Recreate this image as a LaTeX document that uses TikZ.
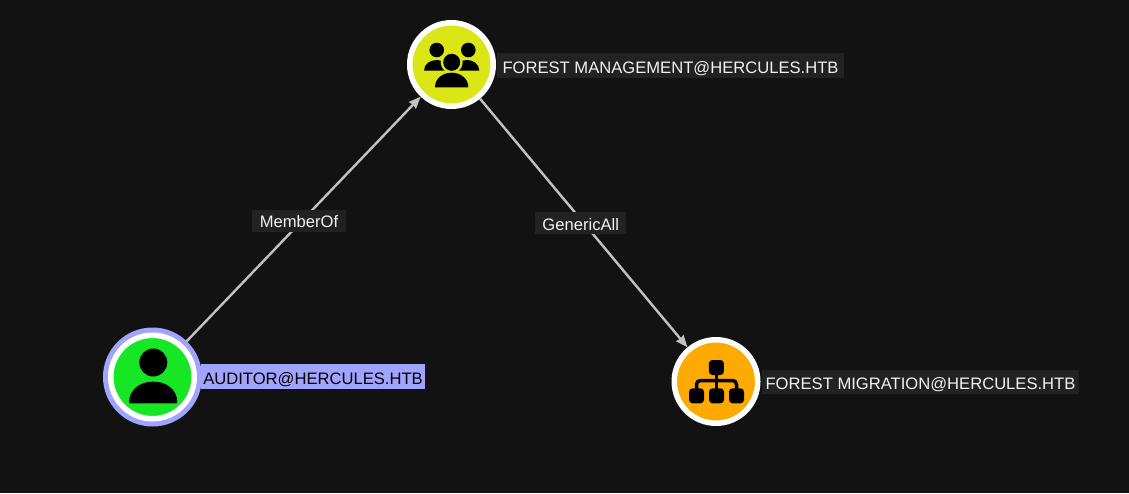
\documentclass[tikz,border=0pt]{standalone}
\usepackage{fontspec}
\setmainfont{Liberation Sans}
\usepackage{xcolor}
\usetikzlibrary{arrows.meta}
\definecolor{bgdark}{HTML}{121212}
\definecolor{labdark}{HTML}{222222}
\definecolor{selblue}{HTML}{A0A4FF}
\definecolor{usergreen}{HTML}{17E625}
\definecolor{groupyellow}{HTML}{DBE617}
\definecolor{ouorange}{HTML}{FFAA00}
\definecolor{edgegray}{HTML}{C2C2C2}
\begin{document}
\begin{tikzpicture}[
  x=1pt, y=-1pt,
  obj/.style={circle, draw=white, line width=5.5pt, minimum size=83.5pt, inner sep=0pt},
  nm/.style={font=\fontsize{16.6}{18}\selectfont, text=white!95!black, fill=labdark,
             inner sep=0pt, text height=20.2pt, text depth=4.3pt},
  elab/.style={font=\fontsize{16.6}{18}\selectfont, text=white!95!black, fill=labdark,
               inner sep=0pt, text height=18pt, text depth=3.7pt},
  arr/.style={-{Stealth[length=12pt,width=9.5pt,inset=1pt]}, line width=2.4pt, edgegray},
]
\fill[bgdark] (0,0) rectangle (1129,493);
\useasboundingbox (0,0) rectangle (1129,493);

% name tags sit under the circles
\node[nm, minimum width=224pt, fill=selblue, text=black] (tagaud) at (313,376.5) {AUDITOR@HERCULES.HTB};
\node[nm, minimum width=347pt] (tagmgmt) at (670.5,65.5) {FOREST MANAGEMENT@HERCULES.HTB};
\node[nm, minimum width=317pt] (tagmig) at (920.5,382) {FOREST MIGRATION@HERCULES.HTB};

% the three objects
\fill[selblue] (152.5,377) circle (49.5pt);
\node[obj, fill=usergreen] (aud) at (152.5,377) {};
\node[obj, fill=groupyellow] (mgmt) at (451.5,64.5) {};
\node[obj, fill=ouorange] (mig) at (716,381.5) {};

% user icon
\fill[black] (153.3,362.5) circle (14pt);
\fill[black, rounded corners=1pt] (129,403.3) .. controls (129,389) and (141,381.7) .. (153.2,381.7)
  .. controls (165.5,381.7) and (177.3,389) .. (177.3,403.3) -- cycle;

% group icon
\fill[black] (436.7,50) circle (7.3pt) (468.3,50) circle (7.3pt);
\fill[black] (424,70.7) .. controls (424,64) and (430,60) .. (436.7,60) .. controls (443,60) and (449,64) .. (449,70.7) -- cycle;
\fill[black] (454,70.7) .. controls (454,64) and (460,60) .. (467,60) .. controls (473,60) and (479.3,64) .. (479.3,70.7) -- cycle;
\fill[groupyellow] (451.7,62.3) circle (11pt);
\fill[black] (451.7,62.3) circle (8.5pt);
\fill[black] (435,87.3) .. controls (435,78) and (443,72.7) .. (451.7,72.7) .. controls (460,72.7) and (468.3,78) .. (468.3,87.3) -- cycle;

% tree icon
\foreach \bx/\by in {716.4/367.5, 696.5/395.8, 716.5/395.8, 736.5/395.8}{
  \fill[black, rounded corners=3.5pt] (\bx-7.5,\by-7.5) rectangle (\bx+7.5,\by+7.5);
}
\draw[black, line width=3.5pt, rounded corners=4pt] (696.5,390) -- (696.5,380.5) -- (736.5,380.5) -- (736.5,390);
\draw[black, line width=3.5pt] (716.5,372) -- (716.5,390);

% connectors
\draw[arr, shorten <=5pt] (aud) -- node[elab, midway, minimum width=94pt, xshift=-3pt] (lmember) {MemberOf} (mgmt);
\draw[arr] (mgmt) -- node[elab, midway, minimum width=91pt, xshift=-3pt] (lgeneric) {GenericAll} (mig);
\end{tikzpicture}
\end{document}
